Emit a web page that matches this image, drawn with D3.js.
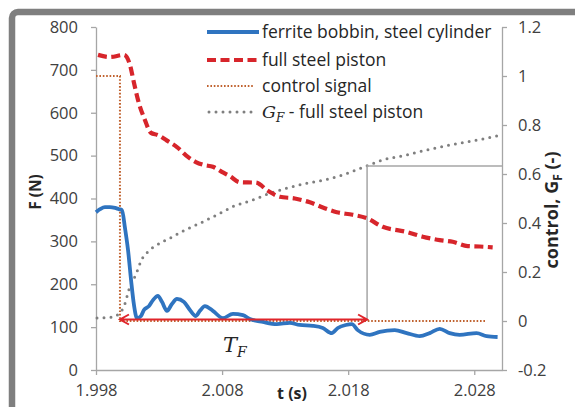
<!DOCTYPE html>
<html>
<head>
<meta charset="utf-8">
<script src="https://cdn.jsdelivr.net/npm/d3@7"></script>
<style>
  body { margin: 0; background: #fff; }
  svg { display: block; font-family: "Open Sans", sans-serif; }
  .axis path, .axis line { stroke: #a6a6a6; stroke-width: 1.3; }
  .axis text { fill: #404040; font-size: 16.5px; font-family: "Open Sans", sans-serif; }
</style>
</head>
<body>
<div id="chart"></div>
<script>
// ferrite bobbin, steel cylinder (F in N, left axis)
const tBlue = [1.998, 1.99832, 1.99871, 1.99911, 1.99951, 1.99982, 2.00006, 2.0003, 2.00054, 2.00078,
  2.00101, 2.00125, 2.00157, 2.0018, 2.0022, 2.00252, 2.00291, 2.00323, 2.00363, 2.00402,
  2.00442, 2.00497, 2.00545, 2.00592, 2.00624, 2.00664, 2.00727, 2.00806, 2.00886, 2.00965,
  2.0102, 2.01123, 2.01234, 2.01337, 2.01416, 2.0152, 2.01599, 2.0167, 2.01718, 2.01781,
  2.01829, 2.01876, 2.01971, 2.0205, 2.02169, 2.02264, 2.02367, 2.02447, 2.02526, 2.02605,
  2.02684, 2.02819, 2.02898, 2.02985];
const fBlue = [368, 375, 380, 380, 378, 375, 373, 331, 280, 210,
  152, 121, 126, 140, 149, 163, 173, 159, 138, 154,
  166, 159, 140, 126, 138, 149, 138, 121, 131, 128,
  119, 112, 107, 110, 105, 103, 98, 86, 98, 105,
  107, 93, 82, 89, 93, 86, 79, 86, 96, 86,
  82, 86, 79, 77];

// full steel piston (F in N, left axis)
const tRed = [1.99816, 1.99911, 2.00022, 2.00069, 2.00101, 2.00133, 2.00188, 2.00236, 2.00291, 2.00363,
  2.00442, 2.00529, 2.00592, 2.00656, 2.00727, 2.00798, 2.00862, 2.00941, 2.01068, 2.01163,
  2.01258, 2.01377, 2.01496, 2.01599, 2.0171, 2.01836, 2.01947, 2.02074, 2.02264, 2.02391,
  2.02526, 2.02629, 2.02748, 2.02843, 2.02946];
const fRed = [735, 730, 735, 712, 670, 630, 583, 553, 548, 535,
  520, 497, 485, 478, 474, 462, 452, 438, 437, 418,
  404, 400, 391, 379, 368, 362, 354, 334, 322, 311,
  303, 299, 289, 288, 286];

// control signal (right axis)
const tCtrl = [1.998, 1.9999, 1.9999, 2.0289];
const vCtrl = [1, 1, 0, 0];

// G_F - full steel piston (right axis)
const tGF = [1.99808, 1.99927, 1.99982, 2.00022, 2.00069, 2.00117, 2.00157, 2.00212, 2.00283, 2.00386,
  2.00505, 2.00624, 2.00759, 2.00886, 2.01044, 2.01179, 2.01313, 2.01472, 2.0163, 2.01757,
  2.01868, 2.01947, 2.02074, 2.02264, 2.02423, 2.02605, 2.02787, 2.02978];
const vGF = [0.012, 0.016, 0.03, 0.06, 0.14, 0.19, 0.245, 0.283, 0.31, 0.338,
  0.371, 0.399, 0.433, 0.467, 0.494, 0.521, 0.542, 0.562, 0.578, 0.596,
  0.617, 0.633, 0.657, 0.678, 0.698, 0.718, 0.735, 0.755];

// T_F marker
const tfStart = 1.9999, tfEnd = 2.0195, gfAtTf = 0.633;

const xTicks = [1.998, 2.008, 2.018, 2.028];
const yLeftTicks = [0, 100, 200, 300, 400, 500, 600, 700, 800];
const yRightTicks = [-0.2, 0, 0.2, 0.4, 0.6, 0.8, 1, 1.2];

const legendItems = ["ferrite bobbin, steel cylinder", "full steel piston", "control signal", "GF"];

const W = 575, H = 407;
const svg = d3.select("#chart").append("svg").attr("width", W).attr("height", H);

// gray frame (clipped at right and bottom)
svg.append("rect").attr("x", 12).attr("y", 12).attr("width", 800).attr("height", 800)
  .attr("rx", 6).attr("fill", "#fff").attr("stroke", "#7f7f7f").attr("stroke-width", 6.5);

const x = d3.scaleLinear().domain([1.998, 2.0302]).range([96, 502]);
const yL = d3.scaleLinear().domain([0, 800]).range([370, 27]);
const yR = d3.scaleLinear().domain([-0.2, 1.2]).range([370, 27]);

// axes
svg.append("g").attr("class", "axis").attr("transform", "translate(96,0)")
  .call(d3.axisLeft(yL).tickValues(yLeftTicks).tickSize(5).tickSizeOuter(0).tickPadding(13));
svg.append("g").attr("class", "axis").attr("transform", "translate(502,0)")
  .call(d3.axisRight(yR).tickValues(yRightTicks).tickSize(5).tickSizeOuter(0).tickPadding(11)
    .tickFormat(d => String(+d.toFixed(1))));
svg.append("g").attr("class", "axis").attr("transform", "translate(0,370)")
  .call(d3.axisBottom(x).tickValues(xTicks).tickSize(5).tickSizeOuter(0).tickPadding(9)
    .tickFormat(d3.format(".3f")));
svg.selectAll(".axis .domain").attr("fill", "none");

// axis titles
svg.append("text").attr("transform", "translate(41,192) rotate(-90)")
  .attr("text-anchor", "middle").attr("font-weight", "bold").attr("font-size", 15.5)
  .attr("fill", "#262626").text("F (N)");
const rt = svg.append("text").attr("transform", "translate(558,210) rotate(-90)")
  .attr("text-anchor", "middle").attr("font-weight", "bold").attr("font-size", 18)
  .attr("fill", "#262626");
rt.append("tspan").text("control, G");
rt.append("tspan").attr("font-size", 12).attr("dy", 4).text("F");
rt.append("tspan").attr("dy", -4).text(" (-)");
svg.append("text").attr("x", 292).attr("y", 399).attr("text-anchor", "middle")
  .attr("font-weight", "bold").attr("font-size", 16).attr("fill", "#262626").text("t (s)");

// series
const lineL = (ts, vs) => d3.line().x(i => x(ts[i])).y(i => yL(vs[i])).curve(d3.curveMonotoneX)(d3.range(ts.length));
const lineR = (ts, vs, c) => d3.line().x(i => x(ts[i])).y(i => yR(vs[i])).curve(c || d3.curveLinear)(d3.range(ts.length));

svg.append("path").attr("d", lineR(tCtrl, vCtrl)).attr("fill", "none")
  .attr("stroke", "#c0622f").attr("stroke-width", 2).attr("stroke-dasharray", "1.6,1.8");

svg.append("path").attr("d", lineR(tGF, vGF, d3.curveMonotoneX)).attr("fill", "none")
  .attr("stroke", "#7f7f7f").attr("stroke-width", 3).attr("stroke-linecap", "round")
  .attr("stroke-dasharray", "0,7");

// T_F guides
svg.append("path")
  .attr("d", `M${x(tfEnd)},${yR(0)} V${yR(gfAtTf)} H${x.range()[1]}`)
  .attr("fill", "none").attr("stroke", "#a6a6a6").attr("stroke-width", 1.5);

svg.append("path").attr("d", lineL(tRed, fRed)).attr("fill", "none")
  .attr("stroke", "#d7252b").attr("stroke-width", 4.2).attr("stroke-dasharray", "9,4.5");

svg.append("path").attr("d", lineL(tBlue, fBlue)).attr("fill", "none")
  .attr("stroke", "#2f74c0").attr("stroke-width", 3.8).attr("stroke-linejoin", "round");

// T_F double arrow
const ay = yR(0) - 1.5, ax0 = x(tfStart), ax1 = x(tfEnd);
svg.append("path")
  .attr("d", `M${ax0},${ay} H${ax1} M${ax0 + 9},${ay - 5} L${ax0},${ay} L${ax0 + 9},${ay + 5} M${ax1 - 9},${ay - 5} L${ax1},${ay} L${ax1 - 9},${ay + 5}`)
  .attr("fill", "none").attr("stroke", "#e0252b").attr("stroke-width", 2);

const tf = svg.append("text").attr("x", 223).attr("y", 352)
  .attr("font-family", "DejaVu Serif, serif").attr("font-style", "italic").attr("fill", "#262626");
tf.append("tspan").attr("font-size", 21).text("T");
tf.append("tspan").attr("font-size", 14).attr("dy", 5).text("F");

// legend
const lg = svg.append("g");
const rows = [32, 60, 86, 112];
const lx0 = 207, lx1 = 259, tx = 262;
lg.append("line").attr("x1", lx0).attr("x2", lx1).attr("y1", rows[0]).attr("y2", rows[0])
  .attr("stroke", "#2f74c0").attr("stroke-width", 3.8);
lg.append("line").attr("x1", lx0).attr("x2", lx1).attr("y1", rows[1]).attr("y2", rows[1])
  .attr("stroke", "#d7252b").attr("stroke-width", 4.2).attr("stroke-dasharray", "9,4.5");
lg.append("line").attr("x1", lx0).attr("x2", lx1 - 5).attr("y1", rows[2]).attr("y2", rows[2])
  .attr("stroke", "#c0622f").attr("stroke-width", 2).attr("stroke-dasharray", "1.6,1.8");
lg.append("line").attr("x1", lx0 + 2).attr("x2", lx1 - 4).attr("y1", rows[3]).attr("y2", rows[3])
  .attr("stroke", "#7f7f7f").attr("stroke-width", 3).attr("stroke-linecap", "round").attr("stroke-dasharray", "0,7");

legendItems.forEach((s, i) => {
  const t = lg.append("text").attr("x", tx).attr("y", rows[i]).attr("dy", "0.35em")
    .attr("font-size", 17.5).attr("fill", "#262626");
  if (s === "GF") {
    t.append("tspan").attr("font-family", "DejaVu Serif, serif").attr("font-style", "italic").text("G");
    t.append("tspan").attr("font-family", "DejaVu Serif, serif").attr("font-style", "italic")
      .attr("font-size", 12).attr("dy", 4).text("F");
    t.append("tspan").attr("dy", -4).text(" - full steel piston");
  } else {
    t.text(s);
  }
});
</script>
</body>
</html>
